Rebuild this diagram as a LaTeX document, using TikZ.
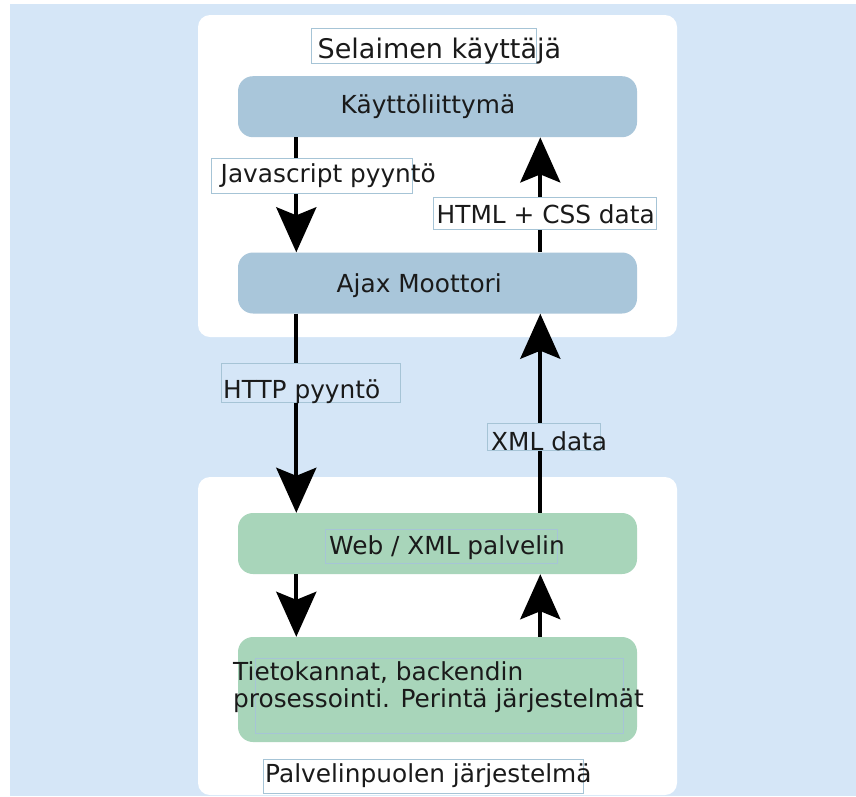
\documentclass[tikz,border=0pt]{standalone}
\usepackage{fontspec}
\setmainfont{DejaVu Sans}
\usetikzlibrary{arrows.meta}

\definecolor{pagebg}{HTML}{D5E6F7}
\definecolor{clientbox}{HTML}{A9C6DA}
\definecolor{serverbox}{HTML}{A8D5BA}
\definecolor{tagline}{HTML}{A6C4D6}
\definecolor{ink}{HTML}{1A1A1A}

\tikzset{
  panel/.style={fill=white, rounded corners=12pt, inner sep=0pt, minimum width=479pt},
  unit/.style={rounded corners=15pt, inner sep=0pt, minimum width=399pt, minimum height=61pt},
  client/.style={unit, fill=clientbox},
  server/.style={unit, fill=serverbox},
  frame/.style={draw=tagline, line width=0.8pt, inner sep=0pt, anchor=north west},
  txt/.style={inner sep=0pt, anchor=base west, text=ink,
              font=\fontsize{24.8}{27.3}\selectfont},
  flow/.style={line width=4pt, draw=black,
               -{Stealth[length=45pt, width=40pt, inset=8pt]}},
}

\begin{document}
\begin{tikzpicture}[x=1pt, y=-1pt]
  \useasboundingbox (0,0) rectangle (856,796);
  \fill[pagebg] (10,4) rectangle (856,796);

  % the two systems
  \node[panel, minimum height=322pt] (browser) at (437.5,176) {};
  \node[panel, minimum height=318pt] (server) at (437.5,636) {};

  % layers
  \node[client] (ui)   at (437.5,106.7) {};
  \node[client] (ajax) at (437.5,283) {};
  \node[server] (web)  at (437.5,543.5) {};
  \node[server, minimum height=105pt] (db) at (437.5,689.5) {};

  % connectors
  \draw[flow] ([xshift=-141.2pt]ui.south)   -- ([xshift=-141.2pt]ajax.north);
  \draw[flow] ([xshift=102.8pt]ajax.north)  -- ([xshift=102.8pt]ui.south);
  \draw[flow] ([xshift=-141.2pt]ajax.south) -- ([xshift=-141.2pt]web.north);
  \draw[flow] ([xshift=102.8pt]web.north)   -- ([xshift=102.8pt]ajax.south);
  \draw[flow] ([xshift=-141.2pt]web.south)  -- ([xshift=-141.2pt]db.north);
  \draw[flow] ([xshift=102.8pt]db.north)    -- ([xshift=102.8pt]web.south);

  % text frames
  \node[frame, fill=white, minimum width=225pt, minimum height=35pt] (titlebox) at (311,28.3) {};
  \node[frame, fill=white, minimum width=201pt, minimum height=35pt] (jsbox) at (211,158) {};
  \node[frame, fill=white, minimum width=223pt, minimum height=32pt] (htmlbox) at (433,197) {};
  \node[frame, fill=pagebg, minimum width=179pt, minimum height=39pt] (httpbox) at (221,362.7) {};
  \node[frame, fill=pagebg, minimum width=113pt, minimum height=27pt] (xmlbox) at (487,423) {};
  \node[frame, minimum width=232pt, minimum height=34pt] (webbox) at (325,529) {};
  \node[frame, minimum width=368pt, minimum height=75pt] (dbbox) at (255,658) {};
  \node[frame, fill=white, minimum width=320pt, minimum height=34pt] (footbox) at (263,759) {};

  % texts
  \node[txt, font=\fontsize{27}{32}\selectfont] (title) at (317.5,58.3) {Selaimen käyttäjä};
  \node[txt] (uitext)   at (340.5,113.3) {Käyttöliittymä};
  \node[txt] (jstext)   at (220.5,182.7) {Javascript pyyntö};
  \node[txt] (htmltext) at (436.5,223.3) {HTML + CSS data};
  \node[txt] (ajaxtext) at (336.5,292.3) {Ajax Moottori};
  \node[txt] (httptext) at (223,398.3) {HTTP pyyntö};
  \node[txt] (xmltext)  at (491,450) {XML data};
  \node[txt] (webtext)  at (329,554.3) {Web / XML palvelin};
  \node[txt] (dbtext1)  at (233,680) {Tietokannat, backendin};
  \node[txt] (dbtext2)  at (233,707.3) {prosessointi. Perintä järjestelmät};
  \node[txt] (foottext) at (265,782.7) {Palvelinpuolen järjestelmä};
\end{tikzpicture}
\end{document}
